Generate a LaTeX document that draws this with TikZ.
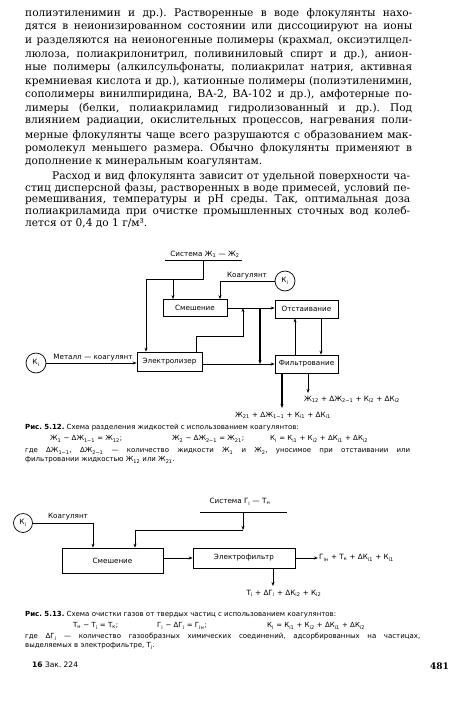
\documentclass[tikz,border=0pt]{standalone}
\usepackage{fontspec}
\setmainfont{DejaVu Serif}
\newfontfamily\labelfont{DejaVu Sans}
\usetikzlibrary{arrows.meta,positioning,calc}
\newcommand{\sbs}[1]{\textsubscript{#1}}
\frenchspacing

\tikzset{
  wire/.style={line width=0.7pt},
  flow/.style={wire, -{Stealth[length=4pt,width=3pt]}},
  unit/.style={draw, line width=0.7pt, inner sep=0pt, font=\labelfont\fontsize{7.2}{8}\selectfont},
  source/.style={circle, draw, line width=0.7pt, minimum size=20pt, inner sep=0pt, font=\labelfont\fontsize{7.2}{8}\selectfont},
  tag/.style={font=\labelfont\fontsize{7.2}{8}\selectfont, inner sep=1pt},
  bodyline/.style={anchor=west, inner sep=0pt, font=\fontsize{10.6}{12}\selectfont},
  capline/.style={anchor=west, inner sep=0pt, font=\labelfont\fontsize{7}{8}\selectfont},
}

\begin{document}
\begin{tikzpicture}[x=1pt, y=-1pt]
  \useasboundingbox (0,0) rectangle (450,705);
  \fill[white] (0,0) rectangle (450,705);

  % text above the figures
  \foreach \txt [count=\i] in {
    {полиэтиленимин и др.). Растворенные в воде флокулянты нахо-},
    {дятся в неионизированном состоянии или диссоциируют на ионы},
    {и разделяются на неионогенные полимеры (крахмал, оксиэтилцел-},
    {люлоза, полиакрилонитрил, поливиниловый спирт и др.), анион-},
    {ные полимеры (алкилсульфонаты, полиакрилат натрия, активная},
    {кремниевая кислота и др.), катионные полимеры (полиэтиленимин,},
    {сополимеры винилпиридина, ВА-2, ВА-102 и др.), амфотерные по-},
    {лимеры (белки, полиакриламид гидролизованный и др.). Под},
    {влиянием радиации, окислительных процессов, нагревания поли-},
    {мерные флокулянты чаще всего разрушаются с образованием мак-},
    {ромолекул меньшего размера. Обычно флокулянты применяют в}}
    \node[bodyline] (pa\i) at (25,{14+13.5*(\i-1)}) {\makebox[387pt][s]{\txt}};
  \node[bodyline] (pa12) at (25,163) {дополнение к минеральным коагулянтам.};
  \node[bodyline] (pb1) at (52,177) {\makebox[358pt][s]{Расход и вид флокулянта зависит от удельной поверхности ча-}};
  \foreach \txt [count=\i from 2] in {
    {стиц дисперсной фазы, растворенных в воде примесей, условий пе-},
    {ремешивания, температуры и pH среды. Так, оптимальная доза},
    {полиакриламида при очистке промышленных сточных вод колеб-}}
    \node[bodyline] (pb\i) at (25,{177+11.6*(\i-1)}) {\makebox[385pt][s]{\txt}};
  \node[bodyline] (pb5) at (25,223.5) {лется от 0,4 до 1 г/м³.};

  % scheme 5.12
  \node[tag] (sys1) at (205,254) {Система Ж\sbs{1} — Ж\sbs{2}};
  \draw[wire] (165,260) coordinate (s1a) -- (242,260);
  \node[unit, minimum width=64pt, minimum height=17pt] (mix1) at (195,308) {Смешение};
  \node[unit, minimum width=65pt, minimum height=19pt] (elz) at (169.5,361.5) {Электролизер};
  \node[unit, minimum width=63pt, minimum height=18pt] (settle) at (306.5,309) {Отстаивание};
  \node[unit, minimum width=63pt, minimum height=18pt] (filt) at (306.5,364) {Фильтрование};
  \node[source] (kin1) at (285,281) {К\sbs{i}};
  \node[source] (kin2) at (36,363) {К\sbs{i}};

  \coordinate (j1) at (203,279);
  \coordinate (j2) at (146,279);
  \coordinate (j3) at (173,279);
  \coordinate (j4) at (220,281);
  \draw[wire] (j1 |- s1a) -- (j1) -- (j2);
  \draw[flow] (j2) -- (j2 |- elz.north);
  \draw[flow] (j3) -- (j3 |- mix1.north);
  \draw[flow] (kin1.west) -- (j4) -- (j4 |- mix1.north);
  \node[tag, anchor=south] (coag1) at (247,280) {Коагулянт};
  \draw[flow] (mix1.east) -- (mix1.east -| settle.west);

  \coordinate (e1) at (196,336);
  \coordinate (e2) at (243,336);
  \coordinate (j5) at (243,308);
  \coordinate (j6) at (260,308);
  \coordinate (j7) at (260,364);
  \draw[flow] (e1 |- elz.north) -- (e1) -- (e2) -- (j5);
  \draw[flow, line width=1.1pt] (j6) -- (j7);
  \draw[flow] (elz.east |- filt.west) -- (filt.west);
  \draw[flow] (kin2.east) -- (kin2.east -| elz.west);
  \node[tag, anchor=south] (metal) at (93,362) {Металл — коагулянт};
  \draw[flow] ([xshift=-11.5pt]filt.north) -- ([xshift=-11.5pt]settle.south);
  \draw[flow] ([xshift=14.5pt]settle.south) -- ([xshift=14.5pt]filt.north);

  \coordinate (o1) at (282,408);
  \coordinate (o2) at (308,393);
  \draw[flow, line width=1.1pt] (filt.south -| o1) -- (o1);
  \draw[flow] (filt.south -| o2) -- (o2);
  \node[tag, anchor=north] (res1) at (283,411) {Ж\sbs{21} + ΔЖ\sbs{1−1} + К\sbs{i1} + ΔК\sbs{i1}};
  \node[tag, anchor=north west] (res2) at (303,395) {Ж\sbs{12} + ΔЖ\sbs{2−1} + К\sbs{i2} + ΔК\sbs{i2}};

  % caption 5.12
  \node[capline] (cap1) at (25,428) {\textbf{Рис. 5.12.} Схема разделения жидкостей с использованием коагулянтов:};
  \node[capline] (f1a) at (50,439) {Ж\sbs{1} − ΔЖ\sbs{1−1} = Ж\sbs{12};};
  \node[capline] (f1b) at (172,439) {Ж\sbs{2} − ΔЖ\sbs{2−1} = Ж\sbs{21};};
  \node[capline] (f1c) at (270,439) {К\sbs{i} = К\sbs{i1} + К\sbs{i2} + ΔК\sbs{i1} + ΔК\sbs{i2}};
  \node[capline] (n1a) at (25,451) {\makebox[385pt][s]{где ΔЖ\sbs{1−1}, ΔЖ\sbs{2−1} — количество жидкости Ж\sbs{1} и Ж\sbs{2}, уносимое при отстаивании или}};
  \node[capline] (n1b) at (25,460) {фильтровании жидкостью Ж\sbs{12} или Ж\sbs{21}.};

  % scheme 5.13
  \node[tag] (sys2) at (240,502) {Система Г\sbs{i} — Т\sbs{н}};
  \draw[wire] (200,512) coordinate (s2a) -- (287,512);
  \node[unit, minimum width=101pt, minimum height=25pt] (mix2) at (112.5,560.5) {Смешение};
  \node[unit, minimum width=102pt, minimum height=20pt] (efl) at (244,558) {Электрофильтр};
  \node[source, minimum size=19pt] (kin3) at (23,523) {К\sbs{i}};

  \coordinate (g1) at (243,530);
  \coordinate (g2) at (135,530);
  \coordinate (g3) at (93,523);
  \draw[flow] (g1 |- s2a) -- (g1);
  \draw[flow] (g1) -- (g2) -- (g2 |- mix2.north);
  \draw[flow] (kin3.east) -- (g3) -- (g3 |- mix2.north);
  \node[tag, anchor=south] (coag2) at (68,521) {Коагулянт};
  \draw[flow] (mix2.east |- efl.west) -- (efl.west);

  \coordinate (o3) at (318,558);
  \coordinate (o4) at (273,586);
  \draw[flow] (efl.east) -- (o3);
  \node[tag, anchor=west] (res3) at (o3) {Г\sbs{iн} + Т\sbs{к} + ΔК\sbs{i1} + К\sbs{i1}};
  \draw[flow] (efl.south -| o4) -- (o4);
  \node[tag, anchor=north] (res4) at (284,589) {Т\sbs{i} + ΔГ\sbs{i} + ΔК\sbs{i2} + К\sbs{i2}};

  % caption 5.13
  \node[capline] (cap2) at (25,615) {\textbf{Рис. 5.13.} Схема очистки газов от твердых частиц с использованием коагулянтов:};
  \node[capline] (f2a) at (73,626) {Т\sbs{н} − Т\sbs{i} = Т\sbs{к};};
  \node[capline] (f2b) at (157,626) {Г\sbs{i} − ΔГ\sbs{i} = Г\sbs{iн};};
  \node[capline] (f2c) at (267,626) {К\sbs{i} = К\sbs{i1} + К\sbs{i2} + ΔК\sbs{i1} + ΔК\sbs{i2}};
  \node[capline] (n2a) at (25,637) {\makebox[395pt][s]{где ΔГ\sbs{i} — количество газообразных химических соединений, адсорбированных на частицах,}};
  \node[capline] (n2b) at (25,646) {выделяемых в электрофильтре, Т\sbs{i}.};

  % page footer
  \node[capline, font=\labelfont\fontsize{7.5}{9}\selectfont] (foot) at (32,665) {\textbf{16} Зак. 224};
  \node[anchor=east, inner sep=0pt, font=\bfseries\fontsize{9}{10}\selectfont] (pg) at (449,666) {481};
\end{tikzpicture}
\end{document}
